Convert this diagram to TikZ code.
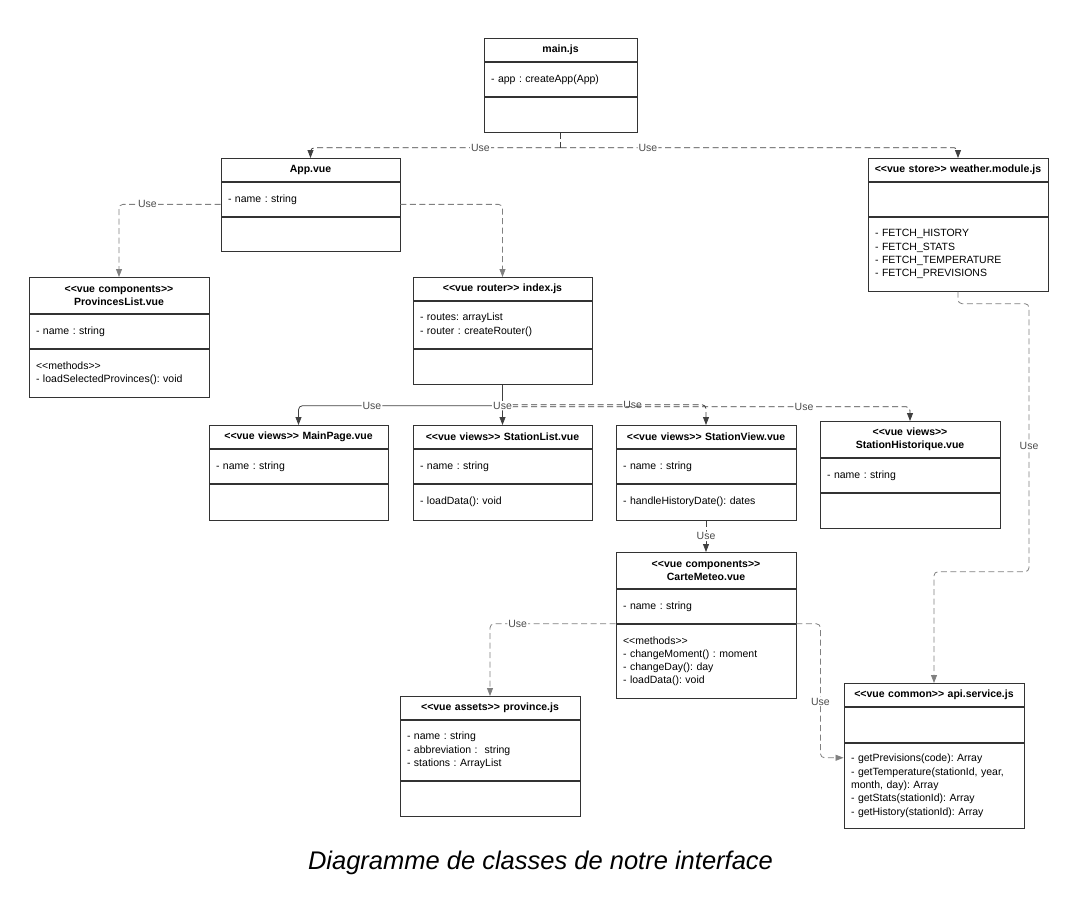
\documentclass[tikz,border=0pt]{standalone}
\usepackage{fontspec}
\setmainfont{Liberation Sans}
\usetikzlibrary{positioning,arrows.meta}

\frenchspacing
\newcommand{\stereo}[1]{{<}{<}#1{>}{>}}

\tikzset{
  classhead/.style={draw=black!80, line width=0.9pt, minimum height=23pt, inner xsep=5pt, inner ysep=1pt,
    font=\fontsize{10.5}{13.5}\selectfont\bfseries, align=center, anchor=north},
  classpart/.style={draw=black!80, line width=0.9pt, minimum height=34pt, inner xsep=7pt, inner ysep=1pt,
    font=\fontsize{10.5}{13.3}\selectfont, align=left, below=0pt of #1},
  usedark/.style={draw=black!75, line width=0.8pt, dash pattern=on 6pt off 3.5pt, rounded corners=4pt,
    -{Triangle[length=8pt,width=6pt]}},
  uselight/.style={draw=black!50, line width=0.8pt, dash pattern=on 6pt off 3.5pt, rounded corners=4pt,
    -{Triangle[length=8pt,width=6pt]}},
  usesolid/.style={draw=black!75, line width=0.8pt, rounded corners=4pt,
    -{Triangle[length=8pt,width=6pt]}},
  lbl/.style={fill=white, inner sep=1pt, text=black!70, font=\fontsize{10.5}{12}\selectfont}
}

\begin{document}
\begin{tikzpicture}[x=1pt, y=-1pt]

                \useasboundingbox (0,0) rectangle (1089,897);

                % Classes
                \node[classhead, minimum width=153pt, text width=143pt] (main) at (560.5,38) {main.js};
                \node[classpart=main, minimum width=153pt, text width=139pt] (main-a) {- app : createApp(App)};
                \node[classpart=main-a, minimum width=153pt, text width=139pt, minimum height=35pt] (main-m) {};

                \node[classhead, minimum width=179pt, text width=169pt] (app) at (310.5,158) {App.vue};
                \node[classpart=app, minimum width=179pt, text width=165pt] (app-a) {- name : string};
                \node[classpart=app-a, minimum width=179pt, text width=165pt] (app-m) {};

                \node[classhead, minimum width=180pt, text width=170pt] (weather) at (958,158) {\stereo{vue store} weather.module.js};
                \node[classpart=weather, minimum width=180pt, text width=166pt] (weather-a) {};
                \node[classpart=weather-a, minimum width=180pt, text width=166pt, minimum height=74pt] (weather-m) {- FETCH\_HISTORY\\- FETCH\_STATS\\- FETCH\_TEMPERATURE\\- FETCH\_PREVISIONS};

                \node[classhead, minimum width=180pt, text width=170pt, minimum height=36pt] (plist) at (119,277) {\stereo{vue components}\\ProvincesList.vue};
                \node[classpart=plist, minimum width=180pt, text width=166pt] (plist-a) {- name : string};
                \node[classpart=plist-a, minimum width=180pt, text width=166pt, minimum height=48pt] (plist-m) {\stereo{methods}\\- loadSelectedProvinces(): void};

                \node[classhead, minimum width=179pt, text width=169pt] (router) at (502.5,277) {\stereo{vue router} index.js};
                \node[classpart=router, minimum width=179pt, text width=165pt, minimum height=47pt] (router-a) {- routes: arrayList\\- router : createRouter()};
                \node[classpart=router-a, minimum width=179pt, text width=165pt, minimum height=35pt] (router-m) {};

                \node[classhead, minimum width=179pt, text width=169pt] (mainpage) at (298.5,425) {\stereo{vue views} MainPage.vue};
                \node[classpart=mainpage, minimum width=179pt, text width=165pt] (mainpage-a) {- name : string};
                \node[classpart=mainpage-a, minimum width=179pt, text width=165pt, minimum height=36pt] (mainpage-m) {};

                \node[classhead, minimum width=179pt, text width=169pt] (slist) at (502.5,425) {\stereo{vue views} StationList.vue};
                \node[classpart=slist, minimum width=179pt, text width=165pt] (slist-a) {- name : string};
                \node[classpart=slist-a, minimum width=179pt, text width=165pt, minimum height=36pt] (slist-m) {- loadData(): void};

                \node[classhead, minimum width=180pt, text width=170pt] (sview) at (706,425) {\stereo{vue views} StationView.vue};
                \node[classpart=sview, minimum width=180pt, text width=166pt] (sview-a) {- name : string};
                \node[classpart=sview-a, minimum width=180pt, text width=166pt, minimum height=36pt] (sview-m) {- handleHistoryDate(): dates};

                \node[classhead, minimum width=180pt, text width=170pt, minimum height=36pt] (shist) at (910,421) {\stereo{vue views}\\StationHistorique.vue};
                \node[classpart=shist, minimum width=180pt, text width=166pt] (shist-a) {- name : string};
                \node[classpart=shist-a, minimum width=180pt, text width=166pt, minimum height=35pt] (shist-m) {};

                \node[classhead, minimum width=180pt, text width=170pt, minimum height=36pt] (carte) at (706,552) {\stereo{vue components}\\CarteMeteo.vue};
                \node[classpart=carte, minimum width=180pt, text width=166pt] (carte-a) {- name : string};
                \node[classpart=carte-a, minimum width=180pt, text width=166pt, minimum height=74pt] (carte-m) {\stereo{methods}\\- changeMoment() : moment\\- changeDay(): day\\- loadData(): void};

                \node[classhead, minimum width=180pt, text width=170pt] (prov) at (490,696) {\stereo{vue assets} province.js};
                \node[classpart=prov, minimum width=180pt, text width=166pt, minimum height=60pt] (prov-a) {- name : string\\- abbreviation :\ \ string\\- stations : ArrayList};
                \node[classpart=prov-a, minimum width=180pt, text width=166pt, minimum height=35pt] (prov-m) {};

                \node[classhead, minimum width=180pt, text width=170pt] (api) at (934,683) {\stereo{vue common} api.service.js};
                \node[classpart=api, minimum width=180pt, text width=166pt, minimum height=35pt] (api-a) {};
                \node[classpart=api-a, minimum width=180pt, text width=166pt, minimum height=85pt] (api-m) {- getPrevisions(code): Array\\- getTemperature(stationId, year,\\month, day): Array\\- getStats(stationId): Array\\- getHistory(stationId): Array};

                % Caption
                \node[font=\fontsize{25.5}{28}\selectfont\itshape] (caption) at (540.5,863) {Diagramme de classes de notre interface};

                % Edges
                \draw[usedark, -] (main-m.south) -- ++(0,15) coordinate (mj);
                \draw[usedark] (mj) -| node[lbl, pos=0.16] {Use} (app.north);
                \draw[usedark] (mj) -| node[lbl, pos=0.11] {Use} (weather.north);
                \draw[uselight] ([yshift=-5pt]app-a.west) -| node[lbl, pos=0.36] {Use} (plist.north);
                \draw[uselight] ([yshift=-5pt]app-a.east) -| (router.north);

                \draw[usesolid, -] (router-m.south) -- ++(0,21) coordinate (rj);
                \draw[usesolid] (rj) -| node[lbl, pos=0.32] {Use} (mainpage.north);
                \draw[usedark] ([yshift=1pt]rj) -| node[lbl, pos=0.32] {Use} (sview.north);
                \draw[usedark] ([yshift=-1pt]rj) -| node[lbl, pos=0.37] {Use} (shist.north);
                \draw[usesolid] (rj) -- node[lbl, pos=0] {Use} (slist.north);

                \draw[usedark] (sview-m.south) -- node[lbl] {Use} (carte.north);
                \draw[uselight] (carte-a.south west) -| node[lbl, pos=0.39] {Use} (prov.north);
                \draw[uselight] (carte-a.south east) -- ++(24,0) |- node[lbl, pos=0.29] {Use} ([yshift=28pt]api-m.west);
                \draw[uselight] (weather-m.south) -- ++(0,12) -- ++(71,0) -- node[lbl, pos=0.53] {Use} ++(0,268) -| (api.north);

            \end{tikzpicture}
\end{document}
